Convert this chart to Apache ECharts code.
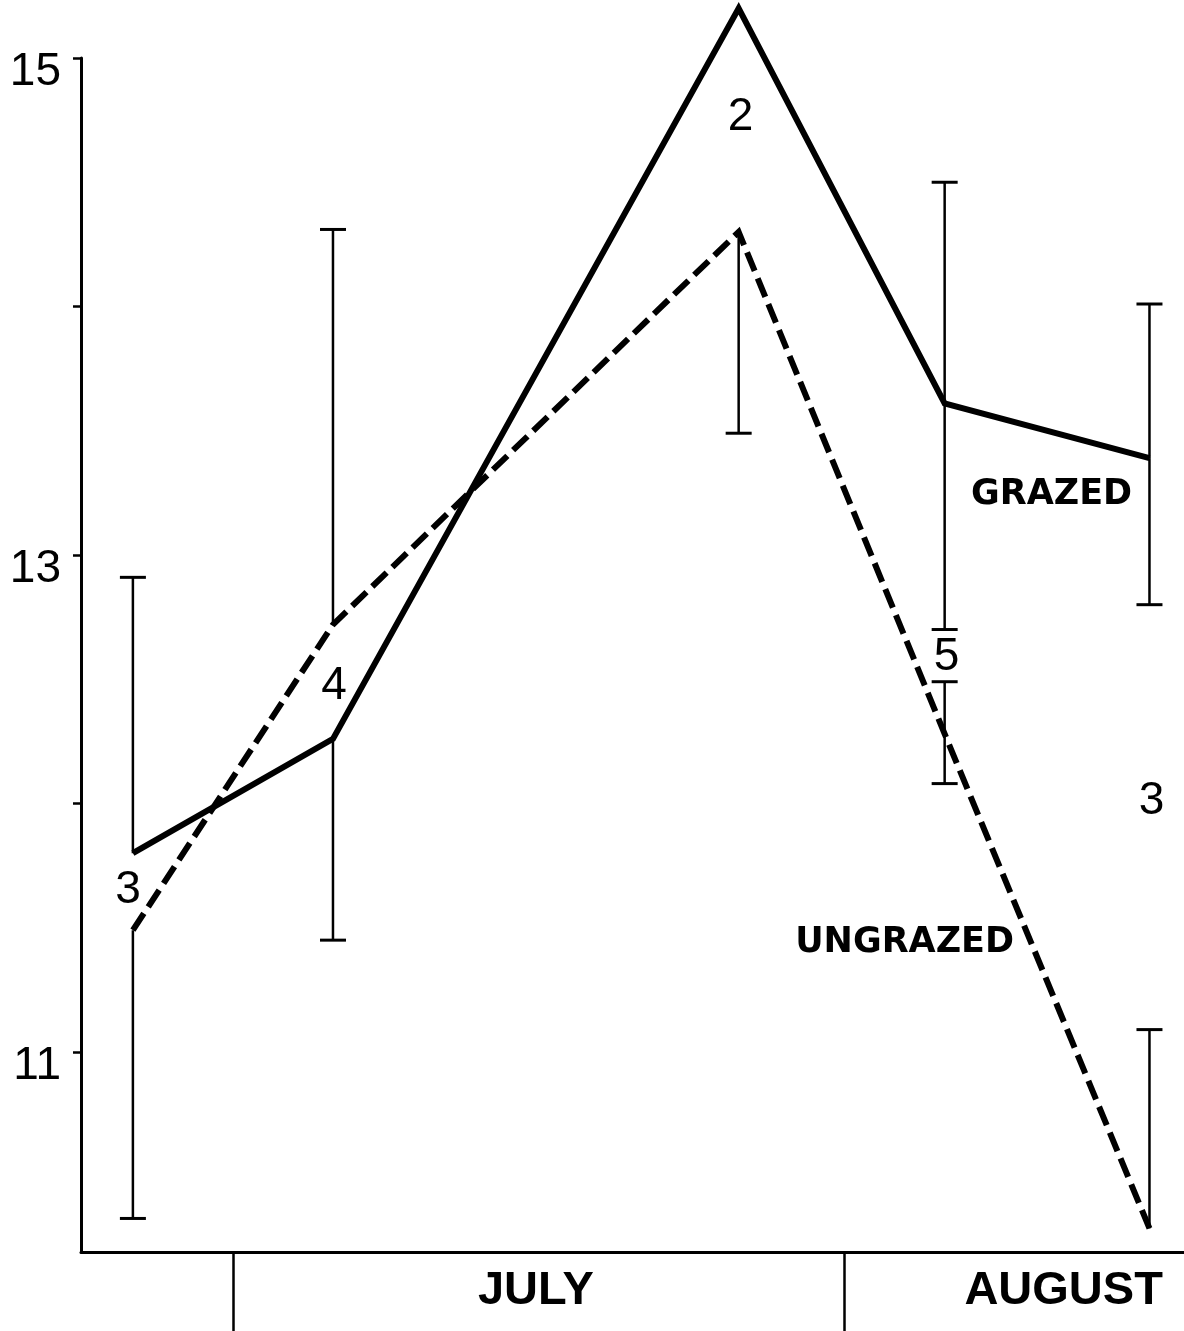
<!DOCTYPE html>
<html><head><meta charset="utf-8">
<script src="https://cdn.jsdelivr.net/npm/echarts@6/dist/echarts.min.js"></script>
<style>html,body{margin:0;padding:0;background:#fff}#c{width:1184px;height:1331px}</style>
</head><body><div id="c"></div>
<script>
// x: days from July 1
const days = [-5.07, 5.07, 25.63, 36.07, 46.45];
const grazed = [11.80, 12.26, 15.20, 13.61, 13.39];
const ungrazed = [11.49, 12.72, 14.30, 12.28, 10.29];
const grazedErrUp = [12.91, null, null, 14.50, 14.01];
const grazedErrDown = [null, 11.45, null, 12.70, 12.80];
const ungrazedErrUp = [null, 14.31, null, 12.49, 11.09];
const ungrazedErrDown = [10.33, null, 13.49, 12.08, null];
const sampleSizes = ['3', '4', '2', '5', '3'];
const sampleLabelX = [-5.32, 5.12, 25.73, 36.17, 46.55];
const sampleLabelY = [11.65, 12.47, 14.76, 12.59, 12.01];
const seriesNames = ['GRAZED', 'UNGRAZED'];
const seriesNameX = [41.49, 34.04];
const seriesNameY = [13.24, 11.44];
const yTicks = [11, 12, 13, 14, 15];
const yLabels = [11, 13, 15];
const monthBounds = [0, 31];
const monthNames = ['JULY', 'AUGUST'];
const monthLabelDays = [15.35, 42.1];

function errData(vals, up, down) {
  const out = [];
  days.forEach((d, i) => {
    if (up[i] != null) out.push([d, vals[i], up[i]]);
    if (down[i] != null) out.push([d, vals[i], down[i]]);
  });
  return out;
}
function renderErr(params, api) {
  const x = api.value(0);
  const p0 = api.coord([x, api.value(1)]);
  const p1 = api.coord([x, api.value(2)]);
  const cw = 13;
  return {
    type: 'group',
    children: [
      { type: 'line', shape: { x1: p0[0], y1: p0[1], x2: p1[0], y2: p1[1] }, style: { stroke: '#000', lineWidth: 2.5 } },
      { type: 'line', shape: { x1: p1[0] - cw, y1: p1[1], x2: p1[0] + cw, y2: p1[1] }, style: { stroke: '#000', lineWidth: 3 } }
    ]
  };
}
function textRenderer(texts, font) {
  return function (params, api) {
    const p = api.coord([api.value(0), api.value(1)]);
    return {
      type: 'text', x: p[0], y: p[1],
      style: { text: texts[params.dataIndex], font: font, fill: '#000', align: 'center', verticalAlign: 'middle' }
    };
  };
}

const chart = echarts.init(document.getElementById('c'));
chart.setOption({
  backgroundColor: '#fff',
  animation: false,
  grid: { left: 81, right: 0, top: 58, bottom: 79 },
  xAxis: {
    type: 'value', min: -7.7, max: 48.2,
    axisLine: { show: true, onZero: false, lineStyle: { color: '#000', width: 3 } },
    axisTick: { show: true, customValues: monthBounds, length: 79, inside: false, lineStyle: { color: '#000', width: 2.5 } },
    axisLabel: {
      customValues: monthLabelDays,
      formatter: function (v) {
        let best = 0;
        monthLabelDays.forEach((m, i) => { if (Math.abs(m - v) < Math.abs(monthLabelDays[best] - v)) best = i; });
        return monthNames[best];
      },
      margin: 16, fontSize: 47, fontWeight: 'bold', color: '#000', fontFamily: 'Liberation Sans'
    },
    splitLine: { show: false }
  },
  yAxis: {
    type: 'value', min: 10.195, max: 15,
    axisLine: { show: true, onZero: false, lineStyle: { color: '#000', width: 3 } },
    axisTick: { show: true, customValues: yTicks, length: 8, lineStyle: { color: '#000', width: 2.5 } },
    axisLabel: { customValues: yLabels, fontSize: 46, color: '#000', margin: 20, verticalAlign: 'top', lineHeight: 28, fontFamily: 'Liberation Sans' },
    splitLine: { show: false }
  },
  series: [
    { type: 'custom', renderItem: renderErr, data: errData(grazed, grazedErrUp, grazedErrDown), clip: false, z: 1 },
    { type: 'custom', renderItem: renderErr, data: errData(ungrazed, ungrazedErrUp, ungrazedErrDown), clip: false, z: 1 },
    {
      name: 'GRAZED', type: 'line', data: days.map((d, i) => [d, grazed[i]]),
      showSymbol: false, symbol: 'none', clip: false, z: 3,
      lineStyle: { color: '#000', width: 6, type: 'solid', join: 'miter' }
    },
    {
      name: 'UNGRAZED', type: 'line', data: days.map((d, i) => [d, ungrazed[i]]),
      showSymbol: false, symbol: 'none', clip: false, z: 3,
      lineStyle: { color: '#000', width: 6, type: [20, 8], join: 'miter' }
    },
    {
      type: 'custom', renderItem: textRenderer(sampleSizes, '46px "Liberation Sans"'), clip: false, z: 4,
      data: sampleLabelX.map((x, i) => [x, sampleLabelY[i]])
    },
    {
      type: 'custom', renderItem: textRenderer(seriesNames, 'bold 35px "DejaVu Sans"'), clip: false, z: 4,
      data: seriesNameX.map((x, i) => [x, seriesNameY[i]])
    }
  ]
});
</script>
</body></html>
